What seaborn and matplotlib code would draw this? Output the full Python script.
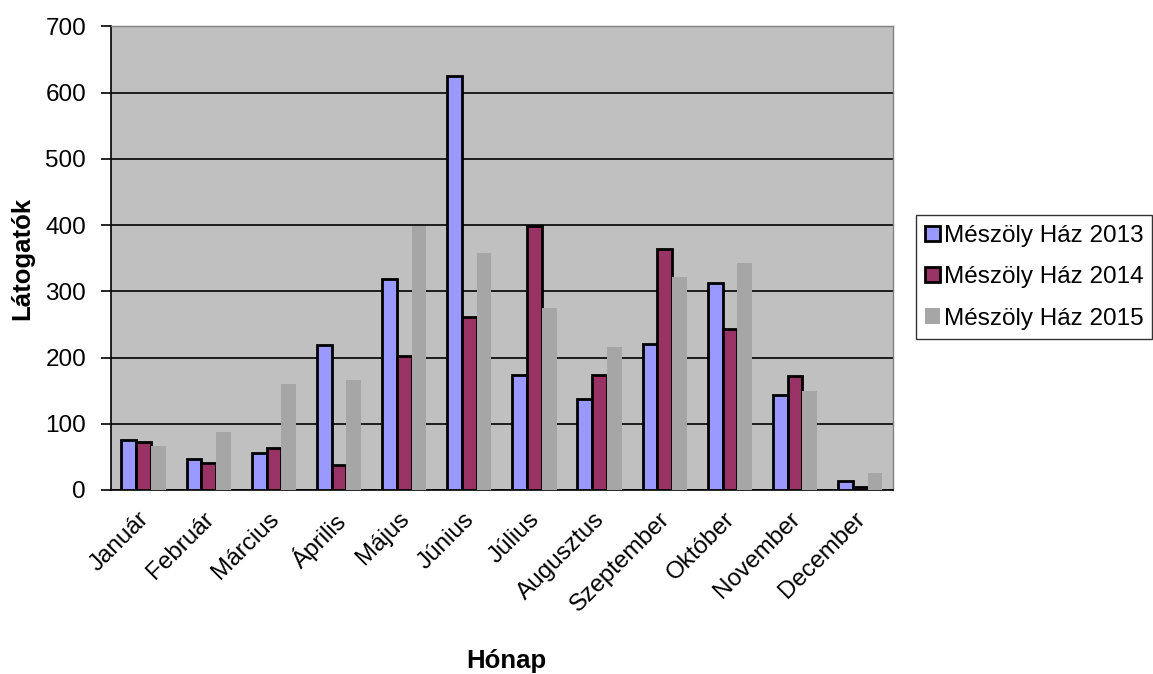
import pandas as pd
import numpy as np
import seaborn as sns
import matplotlib.pyplot as plt
import matplotlib.transforms as mtransforms
from matplotlib.patches import Patch

months = ["Január", "Február", "Március", "Április", "Május", "Június",
          "Július", "Augusztus", "Szeptember", "Október", "November", "December"]
series_names = ["Mészöly Ház 2013", "Mészöly Ház 2014", "Mészöly Ház 2015"]
v2013 = [76, 47, 56, 219, 318, 625, 174, 137, 221, 312, 143, 13]
v2014 = [72, 41, 64, 37, 202, 261, 399, 173, 364, 243, 172, 5]
v2015 = [67, 87, 160, 166, 399, 358, 274, 216, 321, 342, 150, 25]

colors = ["#9999FF", "#993366", "#A6A6A6"]

df = pd.DataFrame({
    "Hónap": months * 3,
    "Látogatók": v2013 + v2014 + v2015,
    "Sorozat": [series_names[0]] * 12 + [series_names[1]] * 12 + [series_names[2]] * 12,
})

sns.set_theme(style="white")
plt.rcParams["font.family"] = ["Liberation Sans", "DejaVu Sans"]
plt.rcParams["text.color"] = "black"
plt.rcParams["axes.labelcolor"] = "black"
plt.rcParams["xtick.color"] = "black"
plt.rcParams["ytick.color"] = "black"

fig = plt.figure(figsize=(11.53, 6.74), dpi=100)
ax = fig.add_axes([0.0963, 0.273, 0.678, 0.688])

sns.barplot(data=df, x="Hónap", y="Látogatók", hue="Sorozat", order=months,
            hue_order=series_names, palette=colors, width=0.68, ax=ax,
            legend=False, saturation=1)

for i, cont in enumerate(ax.containers):
    for p in cont:
        if i < 2:
            p.set_edgecolor("black")
            p.set_linewidth(2)
        else:
            p.set_edgecolor("none")
        p.set_zorder(3)

ax.set_facecolor("#C0C0C0")
ax.set_ylim(0, 700)
ax.set_xlim(-0.5, 11.5)
ax.set_yticks(range(0, 701, 100))
ax.yaxis.grid(True, color="black", linewidth=1.2, zorder=1)
ax.set_axisbelow(True)

for s in ["top", "right"]:
    ax.spines[s].set_color("#808080")
    ax.spines[s].set_linewidth(1)
for s in ["left", "bottom"]:
    ax.spines[s].set_color("black")
    ax.spines[s].set_linewidth(1.2)

ax.set_xticks(np.arange(-0.5, 12, 1), minor=True)
ax.tick_params(axis="x", which="major", length=0, pad=13, labelsize=17.5)
ax.tick_params(axis="x", which="minor", length=6, width=1.2, color="black", direction="out")
ax.tick_params(axis="y", length=7, width=1.2, color="black", direction="out",
               labelsize=17.5, left=True, pad=11)
shift = mtransforms.ScaledTranslation(-6 / 100, 0, fig.dpi_scale_trans)
for lbl in ax.get_xticklabels():
    lbl.set_rotation(45)
    lbl.set_ha("right")
    lbl.set_rotation_mode("anchor")
    lbl.set_transform(lbl.get_transform() + shift)

ax.set_xlabel("Hónap", fontsize=18.5, fontweight="bold", va="center")
ax.set_ylabel("Látogatók", fontsize=18.5, fontweight="bold", va="center")
ax.xaxis.set_label_coords(0.506, -0.368)
ax.yaxis.set_label_coords(-0.114, 0.5)

handles = [
    Patch(facecolor=colors[0], edgecolor="black", linewidth=2),
    Patch(facecolor=colors[1], edgecolor="black", linewidth=2),
    Patch(facecolor=colors[2], edgecolor="none"),
]
leg = fig.legend(handles, series_names, loc="upper left",
                 bbox_to_anchor=(0.7942, 0.4935, 0.2045, 0.1875), mode="expand",
                 fontsize=17.5, frameon=True,
                 fancybox=False, handlelength=0.58, handleheight=0.58,
                 handletextpad=0.2, borderpad=0.4, labelspacing=0.8,
                 borderaxespad=0)
leg.get_frame().set_edgecolor("black")
leg.get_frame().set_linewidth(1)

fig.savefig("out.png", dpi=100)
